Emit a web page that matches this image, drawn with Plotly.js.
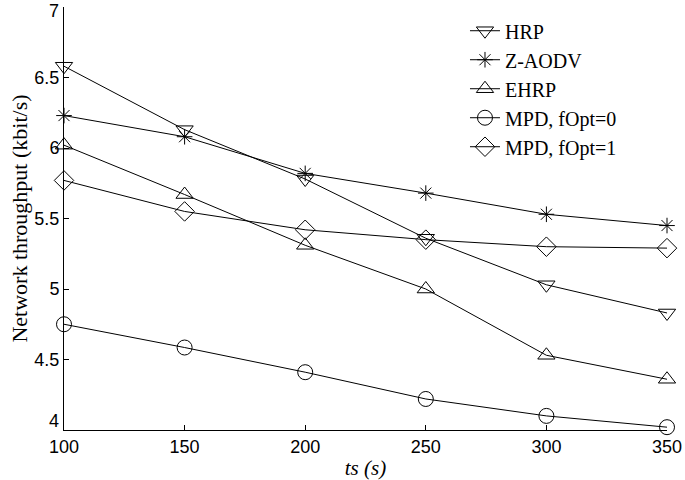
<!DOCTYPE html>
<html>
<head>
<meta charset="utf-8">
<script src="https://cdn.plot.ly/plotly-3.0.1.min.js"></script>
<style>
  html, body { margin: 0; padding: 0; background: #fff; }
  #chart { width: 685px; height: 480px; }
</style>
</head>
<body>
<div id="chart"></div>
<script>
// Throughput vs ts
const ts = [100, 150, 200, 250, 300, 350];
const hrp = [6.58, 6.13, 5.78, 5.36, 5.03, 4.83];
const zaodv = [6.23, 6.08, 5.82, 5.68, 5.53, 5.45];
const ehrp = [6.02, 5.67, 5.31, 5.00, 4.53, 4.36];
const mpd0 = [4.75, 4.585, 4.41, 4.22, 4.10, 4.02];
const mpd1 = [5.77, 5.55, 5.42, 5.35, 5.30, 5.29];

const yTicks = [4, 4.5, 5, 5.5, 6, 6.5, 7];
// end labels "4" and "7" are drawn as annotations (plotly drops the top one,
// and the bottom one sits above the "100" label in the original)
const yTickText = ['', '4.5', '5', '5.5', '6', '6.5', ''];

const seriesNames = ['HRP', 'Z-AODV', 'EHRP', 'MPD, fOpt=0', 'MPD, fOpt=1'];
const seriesValues = [hrp, zaodv, ehrp, mpd0, mpd1];
const seriesSymbols = ['triangle-down-open', 'asterisk-open', 'triangle-up-open', 'circle-open', 'diamond-open'];

const traces = seriesNames.map((name, i) => ({
  type: 'scatter',
  mode: 'lines+markers',
  name,
  x: ts,
  y: seriesValues[i],
  line: { color: '#000', width: 1 },
  marker: {
    symbol: seriesSymbols[i],
    size: seriesSymbols[i] === 'asterisk-open' ? 13 : 15,
    color: '#000',
    line: { color: '#000', width: 1 },
  },
  cliponaxis: false,
}));

const tickFont = { family: 'Liberation Sans, Arial, sans-serif', size: 18, color: '#000' };
const serif = 'Liberation Serif, Times New Roman, serif';

const axisBase = {
  showgrid: false,
  zeroline: false,
  showline: true,
  linecolor: '#000',
  linewidth: 1,
  ticks: 'inside',
  ticklen: 5,
  tickcolor: '#000',
  tickfont: tickFont,
};

const endLabel = (v, yshift) => ({
  text: String(v), xref: 'paper', yref: 'y', x: 0, y: v,
  xanchor: 'right', yanchor: 'middle', xshift: -3, yshift,
  showarrow: false, font: tickFont,
});

Plotly.newPlot('chart', traces, {
  width: 685,
  height: 480,
  paper_bgcolor: '#fff',
  plot_bgcolor: '#fff',
  margin: { t: 7, r: 18, b: 50, l: 64 },
  showlegend: true,
  legend: {
    x: 0.665, y: 0.99, xanchor: 'left', yanchor: 'top',
    bgcolor: 'rgba(0,0,0,0)',
    font: { family: serif, size: 20, color: '#000' },
    tracegroupgap: 0,
  },
  xaxis: {
    ...axisBase,
    range: [100, 350],
    tickvals: ts,
    title: {
      text: '<i>ts (s)</i>',
      font: { family: serif, size: 21, color: '#000' },
      standoff: 4,
    },
  },
  yaxis: {
    ...axisBase,
    range: [4, 7],
    tickvals: yTicks,
    ticktext: yTickText,
    title: {
      text: 'Network throughput (kbit/s)',
      font: { family: serif, size: 22, color: '#000' },
      standoff: 0,
    },
  },
  annotations: [endLabel(yTicks[0], 9), endLabel(yTicks[yTicks.length - 1], -4)],
}, { displayModeBar: false, staticPlot: true });
</script>
</body>
</html>
